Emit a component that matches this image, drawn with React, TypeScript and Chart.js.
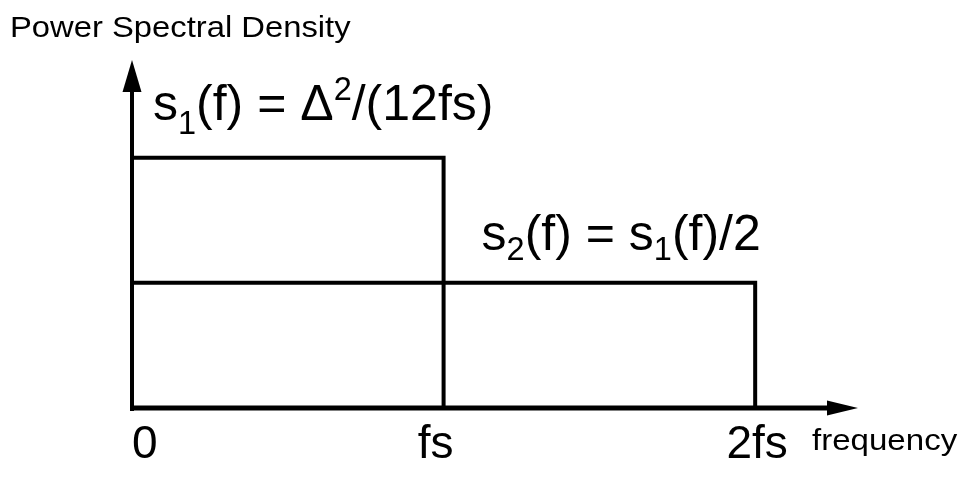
import React, { useEffect, useRef } from "react";
import { Chart, registerables } from "chart.js";

Chart.register(...registerables);

// Frequency axis (in units of fs) and its tick labels
const frequencyTicks = [0, 1, 2];
const tickLabels = ["0", "fs", "2fs"];

// s1(f): flat noise density up to fs
const s1Freq = [0, 1, 1];
const s1Level = [1, 1, 0];

// s2(f) = s1(f)/2: same total noise spread up to 2fs
const s2Freq = [0, 2, 2];
const s2Level = [0.5, 0.5, 0];

const FONT = '"Liberation Sans", Arial, Helvetica, sans-serif';

type Seg = { text: string; size: number; dy: number };

function drawRich(ctx: CanvasRenderingContext2D, segs: Seg[], x: number, y: number) {
  let cx = x;
  ctx.textAlign = "left";
  ctx.textBaseline = "alphabetic";
  for (const s of segs) {
    ctx.font = `${s.size}px ${FONT}`;
    ctx.fillText(s.text, cx, y + s.dy);
    cx += ctx.measureText(s.text).width;
  }
}

// Left-aligned text with a slight horizontal stretch
function drawWide(ctx: CanvasRenderingContext2D, text: string, size: number, sx: number, x: number, y: number) {
  ctx.save();
  ctx.font = `${size}px ${FONT}`;
  ctx.textAlign = "left";
  ctx.textBaseline = "alphabetic";
  ctx.translate(x, y);
  ctx.scale(sx, 1);
  ctx.fillText(text, 0, 0);
  ctx.restore();
}

const psdDecorations = {
  id: "psdDecorations",
  afterDatasetsDraw(chart: any) {
    const ctx: CanvasRenderingContext2D = chart.ctx;
    const xs = chart.scales.x;
    const ys = chart.scales.y;
    const area = chart.chartArea;
    const x0 = xs.getPixelForValue(0);
    const y0 = ys.getPixelForValue(0);

    ctx.save();
    ctx.fillStyle = "#000";
    ctx.strokeStyle = "#000";
    ctx.lineCap = "butt";

    // vertical axis with arrow
    const yTip = area.top;
    ctx.lineWidth = 4;
    ctx.beginPath();
    ctx.moveTo(x0, y0 + 3);
    ctx.lineTo(x0, yTip + 28);
    ctx.stroke();
    ctx.beginPath();
    ctx.moveTo(x0, yTip);
    ctx.lineTo(x0 - 9.5, yTip + 32);
    ctx.lineTo(x0 + 9.5, yTip + 32);
    ctx.closePath();
    ctx.fill();

    // horizontal axis with arrow
    const xTip = area.right;
    ctx.lineWidth = 5;
    ctx.beginPath();
    ctx.moveTo(x0 - 2, y0);
    ctx.lineTo(xTip - 28, y0);
    ctx.stroke();
    ctx.beginPath();
    ctx.moveTo(xTip, y0);
    ctx.lineTo(xTip - 31, y0 - 7.5);
    ctx.lineTo(xTip - 31, y0 + 7.5);
    ctx.closePath();
    ctx.fill();

    // tick labels
    ctx.textBaseline = "alphabetic";
    ctx.font = `46px ${FONT}`;
    const tickShift = [0, -8, 2];
    frequencyTicks.forEach((v, i) => {
      const px = xs.getPixelForValue(v) + tickShift[i];
      ctx.textAlign = i === 0 ? "left" : "center";
      ctx.fillText(tickLabels[i], px, y0 + 50);
    });

    // axis titles
    drawWide(ctx, "frequency", 29, 1.14, xTip - 46, y0 + 42);
    drawWide(ctx, "Power Spectral Density", 29, 1.13, 10, 37);

    // level annotations
    const F = 50;
    drawRich(
      ctx,
      [
        { text: "s", size: F, dy: 0 },
        { text: "1", size: F * 0.65, dy: 14 },
        { text: "(f) = \u0394", size: F, dy: 0 },
        { text: "2", size: F * 0.65, dy: -20 },
        { text: "/(12fs)", size: F, dy: 0 },
      ],
      x0 + 21,
      ys.getPixelForValue(1) - 38
    );
    drawRich(
      ctx,
      [
        { text: "s", size: F, dy: 0 },
        { text: "2", size: F * 0.65, dy: 10 },
        { text: "(f) = s", size: F, dy: 0 },
        { text: "1", size: F * 0.65, dy: 10 },
        { text: "(f)/2", size: F, dy: 0 },
      ],
      xs.getPixelForValue(1) + 38,
      ys.getPixelForValue(0.5) - 33
    );
    ctx.restore();
  },
};

export default function App() {
  const canvasRef = useRef<HTMLCanvasElement | null>(null);

  useEffect(() => {
    const canvas = canvasRef.current;
    if (!canvas) return;
    const toPoints = (xs: number[], ys: number[]) => xs.map((x, i) => ({ x, y: ys[i] }));
    const chart = new Chart(canvas, {
      type: "line",
      data: {
        datasets: [
          {
            label: "s1(f)",
            data: toPoints(s1Freq, s1Level),
            borderColor: "#000",
            borderWidth: 4,
            pointRadius: 0,
            tension: 0,
            fill: false,
            clip: false,
            borderJoinStyle: "miter",
          },
          {
            label: "s2(f)",
            data: toPoints(s2Freq, s2Level),
            borderColor: "#000",
            borderWidth: 4,
            pointRadius: 0,
            tension: 0,
            fill: false,
            clip: false,
            borderJoinStyle: "miter",
          },
        ],
      },
      options: {
        animation: false,
        responsive: false,
        maintainAspectRatio: false,
        layout: { padding: { left: 132, right: 104, top: 60, bottom: 69 } },
        plugins: { legend: { display: false }, tooltip: { enabled: false }, title: { display: false } },
        scales: {
          x: { type: "linear", min: 0, max: 2.33, display: false },
          y: { type: "linear", min: 0, max: 1.39, display: false },
        },
      },
      plugins: [psdDecorations],
    });
    return () => chart.destroy();
  }, []);

  return (
    <div style={{ position: "fixed", left: 0, top: 0, width: 962, height: 477, background: "#fff" }}>
      <canvas ref={canvasRef} width={962} height={477} style={{ width: 962, height: 477, display: "block" }} />
    </div>
  );
}
